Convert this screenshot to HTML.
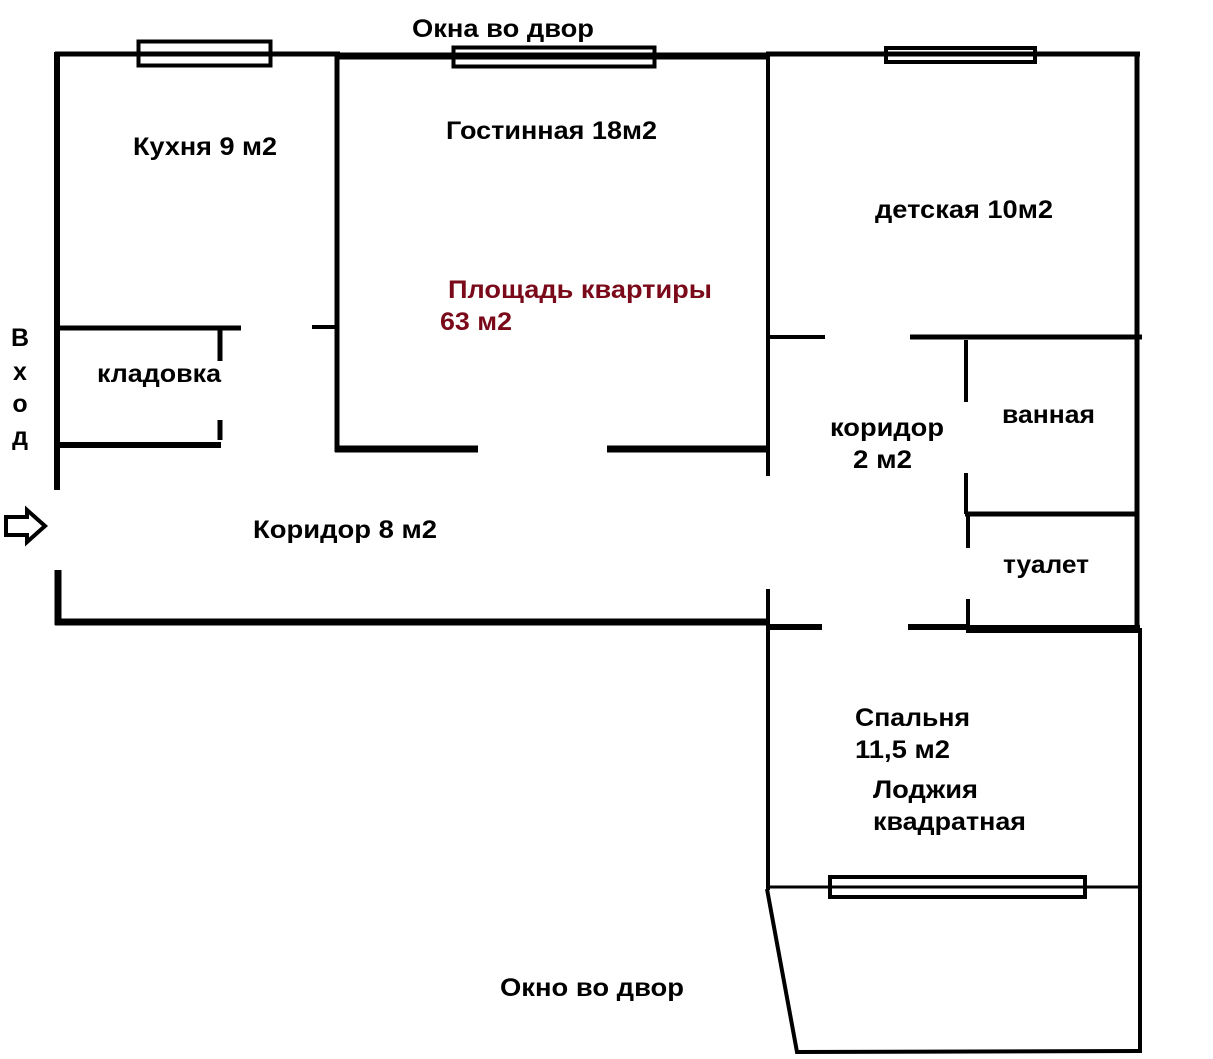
<!DOCTYPE html>
<html><head><meta charset="utf-8"><style>
html,body{margin:0;padding:0;background:#fff}
svg{display:block}
text{font-family:"Liberation Sans",sans-serif;font-weight:bold;font-size:25px;fill:#000}
</style></head><body>
<svg width="1213" height="1059" viewBox="0 0 1213 1059" xmlns="http://www.w3.org/2000/svg">
<g stroke="#000" fill="none" stroke-linecap="butt">
<line x1="55" y1="54" x2="340" y2="54" stroke-width="5"/>
<line x1="337" y1="56" x2="770" y2="56" stroke-width="7"/>
<line x1="766" y1="54" x2="1140" y2="54" stroke-width="5"/>
<line x1="57" y1="52" x2="57" y2="490" stroke-width="6"/>
<line x1="58" y1="570" x2="58" y2="625" stroke-width="7"/>
<line x1="55" y1="622" x2="770" y2="622" stroke-width="7"/>
<line x1="337" y1="54" x2="337" y2="452" stroke-width="5"/>
<line x1="335" y1="449" x2="478" y2="449" stroke-width="7"/>
<line x1="607" y1="449" x2="768" y2="449" stroke-width="7"/>
<line x1="312" y1="327" x2="337" y2="327" stroke-width="4"/>
<line x1="57" y1="328" x2="241" y2="328" stroke-width="5"/>
<line x1="220" y1="328" x2="220" y2="361" stroke-width="5"/>
<line x1="220" y1="420" x2="220" y2="440" stroke-width="5"/>
<line x1="57" y1="445" x2="221" y2="445" stroke-width="6"/>
<line x1="768" y1="54" x2="768" y2="476" stroke-width="4"/>
<line x1="768" y1="589" x2="768" y2="890" stroke-width="4"/>
<line x1="768" y1="337" x2="825" y2="337" stroke-width="4"/>
<line x1="910" y1="337" x2="1142" y2="337" stroke-width="5"/>
<line x1="966" y1="340" x2="966" y2="402" stroke-width="4"/>
<line x1="966" y1="473" x2="966" y2="514" stroke-width="4"/>
<line x1="965" y1="514" x2="1138" y2="514" stroke-width="5"/>
<line x1="968" y1="516" x2="968" y2="548" stroke-width="4"/>
<line x1="968" y1="599" x2="968" y2="628" stroke-width="4"/>
<line x1="1137" y1="54" x2="1137" y2="628" stroke-width="5"/>
<line x1="768" y1="627" x2="822" y2="627" stroke-width="6"/>
<line x1="908" y1="627" x2="968" y2="627" stroke-width="6"/>
<line x1="966" y1="629" x2="1140" y2="629" stroke-width="8"/>
<line x1="1140" y1="628" x2="1140" y2="1053" stroke-width="4"/>
<line x1="768" y1="887" x2="1140" y2="887" stroke-width="3"/>
<polyline points="767,889 797,1052 1140,1051" stroke-width="4"/>
<rect x="138.5" y="41.5" width="132" height="24" stroke-width="4"/>
<rect x="453.5" y="47.5" width="201" height="19" stroke-width="4"/>
<rect x="886" y="48" width="149" height="14" stroke-width="4"/>
<rect x="830" y="877" width="255" height="20" stroke-width="4"/>
<polygon points="6,517 27,517 27,510 45,526 27,542 27,535 6,535" stroke-width="4"/>
</g>
<g lengthAdjust="spacingAndGlyphs">
<text x="412" y="37" textLength="182" lengthAdjust="spacingAndGlyphs">Окна во двор</text>
<text x="133" y="155" textLength="144" lengthAdjust="spacingAndGlyphs">Кухня 9 м2</text>
<text x="446" y="139" textLength="211" lengthAdjust="spacingAndGlyphs">Гостинная 18м2</text>
<text x="875" y="218" textLength="178" lengthAdjust="spacingAndGlyphs">детская 10м2</text>
<text x="448" y="298" textLength="264" lengthAdjust="spacingAndGlyphs" style="fill:#7a0a1a">Площадь квартиры</text>
<text x="440" y="330" textLength="72" lengthAdjust="spacingAndGlyphs" style="fill:#7a0a1a">63 м2</text>
<text x="97" y="382" textLength="124" lengthAdjust="spacingAndGlyphs">кладовка</text>
<text x="20" y="346" text-anchor="middle">В</text>
<text x="20" y="380" text-anchor="middle">х</text>
<text x="20" y="412" text-anchor="middle">о</text>
<text x="20" y="445" text-anchor="middle">д</text>
<text x="830" y="436" textLength="114" lengthAdjust="spacingAndGlyphs">коридор</text>
<text x="853" y="468" textLength="59" lengthAdjust="spacingAndGlyphs">2 м2</text>
<text x="1002" y="423" textLength="93" lengthAdjust="spacingAndGlyphs">ванная</text>
<text x="253" y="538" textLength="184" lengthAdjust="spacingAndGlyphs">Коридор 8 м2</text>
<text x="1003" y="573" textLength="86" lengthAdjust="spacingAndGlyphs">туалет</text>
<text x="855" y="726" textLength="115" lengthAdjust="spacingAndGlyphs">Спальня</text>
<text x="855" y="758" textLength="95" lengthAdjust="spacingAndGlyphs">11,5 м2</text>
<text x="873" y="798" textLength="105" lengthAdjust="spacingAndGlyphs">Лоджия</text>
<text x="873" y="830" textLength="153" lengthAdjust="spacingAndGlyphs">квадратная</text>
<text x="500" y="996" textLength="184" lengthAdjust="spacingAndGlyphs">Окно во двор</text>
</g>
</svg>
</body></html>
